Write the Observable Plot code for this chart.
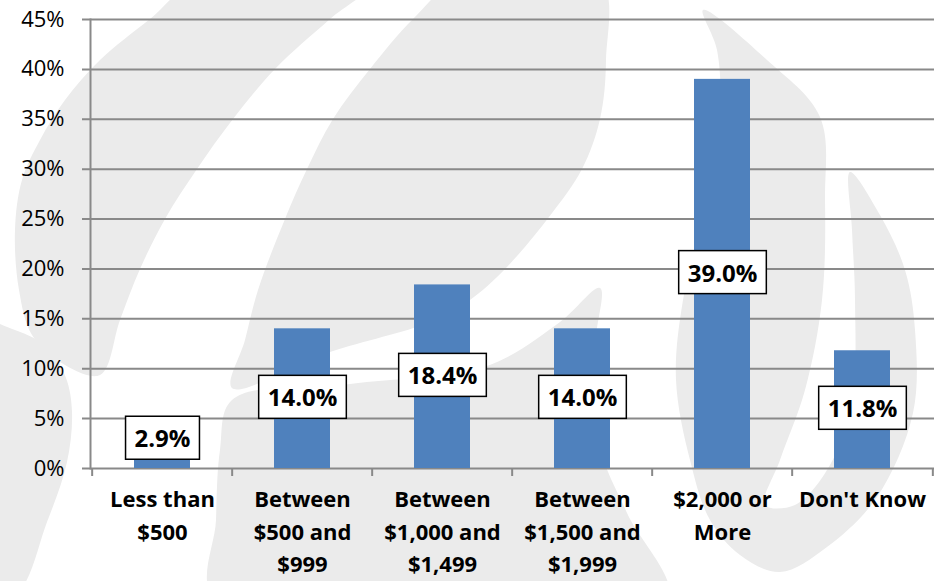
<!DOCTYPE html>
<html>
<head>
<meta charset="utf-8">
<script src="https://cdn.jsdelivr.net/npm/d3@7"></script>
<script src="https://cdn.jsdelivr.net/npm/@observablehq/plot@0.6"></script>
<style>
  html, body { margin: 0; padding: 0; background: #ffffff; }
  #wrap { position: relative; width: 944px; height: 581px; overflow: hidden; }
  #wm { position: absolute; left: 0; top: 0; }
  #chart { position: absolute; left: 0; top: 0; }
  #chart svg { display: block; }
</style>
</head>
<body>
<div id="wrap">
  <svg id="wm" width="944" height="581"></svg>
  <div id="chart"></div>
</div>
<script>
const categories = [
  "Less than\n$500",
  "Between\n$500 and\n$999",
  "Between\n$1,000 and\n$1,499",
  "Between\n$1,500 and\n$1,999",
  "$2,000 or\nMore",
  "Don't Know"
];
const values = [2.9, 14.0, 18.4, 14.0, 39.0, 11.8];
const yTicks = [0, 5, 10, 15, 20, 25, 30, 35, 40, 45];

const data = categories.map((c, i) => ({category: c, value: values[i]}));

const W = 944, H = 581, ML = 90, MR = 10, MT = 19, MB = 113;
const step = (W - ML - MR) / categories.length;
const gray = "#898989";
const FONT = "'Open Sans', Lato, sans-serif";

// decorative background watermark (light grey swooshes), not data
const wmShapes = [
  [[200,-20],[375,-20],[330,19],[275,69],[233,119],[197,169],[165,219],[140,269],[120,320],[100,375],[60,362],[32,335],[19,290],[15,230],[22,180],[40,140],[65,100],[100,60],[150,19]],
  [[-30,322],[15,330],[48,348],[66,378],[72,412],[67,462],[47,522],[15,595],[-30,595]],
  [[460,-20],[600,-20],[606,60],[600,119],[582,169],[549,217],[505,269],[470,300],[430,322],[330,352],[232,388],[245,340],[258,290],[285,219],[307,169],[333,119],[370,69],[413,19]],
  [[232,400],[350,384],[487,366],[560,322],[600,288],[595,347],[600,447],[627,513],[667,600],[215,600],[216,520],[220,450]],
  [[703,10],[767,60],[820,117],[825,200],[822,300],[805,390],[780,460],[765,505],[795,505],[830,465],[852,400],[855,300],[852,230],[850,172],[880,215],[905,270],[915,330],[913,413],[877,497],[827,547],[780,572],[740,555],[710,520],[690,460],[676,380],[683,300],[707,200],[720,117],[717,50]]
];
const wmLine = d3.line().curve(d3.curveCatmullRomClosed.alpha(0.5));
d3.select("#wm").selectAll("path").data(wmShapes).join("path")
  .attr("d", d => wmLine(d)).attr("fill", "#ebebeb");

const chart = Plot.plot({
  width: W, height: H,
  marginLeft: ML, marginRight: MR, marginTop: MT, marginBottom: MB,
  style: {fontFamily: FONT, background: "transparent", color: "#000000", overflow: "visible"},
  x: {domain: categories, paddingInner: 0.6, paddingOuter: 0.3, axis: null},
  y: {domain: [0, 45], axis: null},
  marks: [
    Plot.ruleY(yTicks, {stroke: gray, strokeWidth: 2, insetLeft: -8}),
    Plot.axisY({ticks: yTicks, tickSize: 0, tickPadding: 26, tickFormat: d => d + "%", fontSize: 22, label: null}),
    Plot.frame({anchor: "left", stroke: gray, strokeWidth: 2}),
    Plot.ruleX(categories, {x: d => d, y1: 0, y2: 0, insetBottom: -8, dx: -step / 2, stroke: gray, strokeWidth: 2}),
    Plot.ruleX(categories.slice(-1), {x: d => d, y1: 0, y2: 0, insetBottom: -8, dx: step / 2, stroke: gray, strokeWidth: 2}),
    Plot.barY(data, {x: "category", y: "value", fill: "#4F81BD"}),
    Plot.text(data, {
      x: "category", text: "category", frameAnchor: "bottom", lineAnchor: "top",
      dy: 16, fontSize: 22, fontWeight: "bold", lineHeight: 1.47, fill: "#000"
    }),
    Plot.text(data, {
      x: "category", y: d => Math.max(d.value / 2, 2.9),
      text: d => d.value.toFixed(1) + "%",
      fontSize: 24, fontWeight: "bold", fill: "#000",
      render: (index, scales, values, dims, context, next) => {
        const g = next(index, scales, values, dims, context);
        g.setAttribute("class", (g.getAttribute("class") || "") + " vlabels");
        return g;
      }
    })
  ]
});

document.getElementById("chart").appendChild(chart);

// boxes behind value labels
const svgNS = "http://www.w3.org/2000/svg";
chart.querySelectorAll("g.vlabels text").forEach(t => {
  const b = t.getBBox();
  const r = document.createElementNS(svgNS, "rect");
  const padX = 9;
  const h = 43;
  r.setAttribute("x", b.x - padX);
  r.setAttribute("y", b.y + b.height / 2 - h / 2);
  r.setAttribute("width", b.width + 2 * padX);
  r.setAttribute("height", h);
  r.setAttribute("fill", "#ffffff");
  r.setAttribute("stroke", "#000000");
  r.setAttribute("stroke-width", 1.5);
  if (t.getAttribute("transform")) r.setAttribute("transform", t.getAttribute("transform"));
  t.parentNode.insertBefore(r, t);
});
</script>
</body>
</html>
